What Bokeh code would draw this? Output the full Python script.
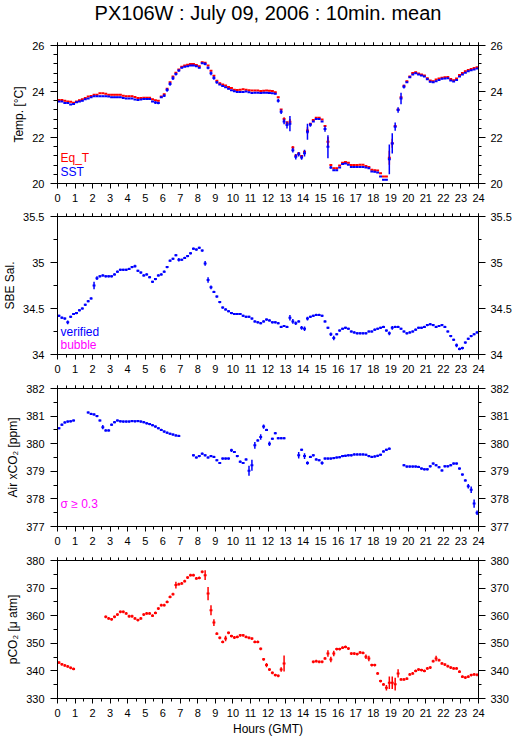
import numpy as np
from bokeh.plotting import figure
from bokeh.layouts import column
from bokeh.models import ColumnDataSource, LinearAxis, FixedTicker, Label, Range1d, CustomJSTickFormatter
from bokeh.embed import file_html
from bokeh.resources import INLINE

N = None
TITLE = "PX106W : July 09, 2006 : 10min. mean"
X_TICKS = list(range(25))
X_LABELS = [str(h) for h in X_TICKS]
X_MINOR = [h / 2 for h in range(49)]
BIN_HOURS = 10 / 60

# ---- Temperature (10-min means, one row per hour) ----
EQT = [
    23.63, 23.63, 23.60, 23.57, 23.55, 23.51,
    23.57, 23.62, 23.66, 23.72, 23.78, 23.80,
    23.86, 23.86, 23.92, 23.92, 23.90, 23.86,
    23.86, 23.86, 23.86, 23.86, 23.82, 23.79,
    23.79, 23.79, 23.76, 23.72, 23.72, 23.73,
    23.73, 23.73, 23.66, 23.62, 23.60, 23.78,
    23.88, 24.12, 24.40, 24.65, 24.82, 24.96,
    25.08, 25.13, 25.16, 25.20, 25.20, 25.15,
    25.10, 25.27, 25.25, 25.13, 24.90, 24.69,
    24.47, 24.36, 24.30, 24.26, 24.20, 24.15,
    24.08, 24.06, 24.08, 24.10, 24.08, 24.05,
    24.04, 24.04, 24.04, 24.02, 24.03, 24.04,
    24.03, 24.02, 23.97, 23.75, 23.22, 22.80,
    22.62, 22.68, 21.57, 21.22, 21.32, 21.20,
    21.38, 22.30, 22.60, 22.76, 22.86, 22.86,
    22.78, 22.50, 21.82, 20.80, 20.66, 20.66,
    20.78, 20.90, 20.94, 20.90, 20.80, 20.80,
    20.80, 20.82, 20.82, 20.76, 20.72, 20.60,
    20.58, 20.56, 20.45, 20.30, 20.30, 21.12,
    21.75, 22.50, 23.22, 23.75, 24.25, 24.45,
    24.65, 24.80, 24.84, 24.78, 24.74, 24.70,
    24.58, 24.48, 24.45, 24.52, 24.56, 24.60,
    24.62, 24.63, 24.54, 24.49, 24.56, 24.72,
    24.80, 24.88, 24.94, 24.98, 25.02, 25.05,
]
SST = [
    23.56, 23.56, 23.50, 23.50, 23.43, 23.46,
    23.53, 23.57, 23.60, 23.66, 23.70, 23.75,
    23.79, 23.79, 23.79, 23.79, 23.79, 23.78,
    23.75, 23.75, 23.75, 23.75, 23.72, 23.70,
    23.70, 23.70, 23.65, 23.63, 23.65, 23.67,
    23.67, 23.67, 23.57, 23.52, 23.50, 23.75,
    23.82, 24.07, 24.33, 24.58, 24.76, 24.91,
    25.03, 25.08, 25.10, 25.13, 25.13, 25.10,
    25.03, 25.23, 25.20, 25.03, 24.79, 24.59,
    24.40, 24.30, 24.24, 24.18, 24.12, 24.05,
    24.01, 23.98, 23.98, 23.98, 24.00, 23.97,
    23.93, 23.95, 23.95, 23.93, 23.95, 23.95,
    23.93, 23.92, 23.90, 23.60, 23.12, 22.70,
    22.54, 22.60, 21.45, 21.16, 21.27, 21.13,
    21.32, 22.25, 22.55, 22.70, 22.80, 22.80,
    22.70, 22.37, 21.60, 20.70, 20.58, 20.58,
    20.70, 20.85, 20.87, 20.82, 20.72, 20.72,
    20.72, 20.72, 20.72, 20.70, 20.66, 20.52,
    20.51, 20.48, 20.30, 20.16, 20.16, 21.05,
    21.74, 22.47, 23.20, 23.70, 24.21, 24.40,
    24.62, 24.74, 24.79, 24.74, 24.70, 24.65,
    24.53, 24.42, 24.40, 24.45, 24.50, 24.55,
    24.56, 24.58, 24.48, 24.43, 24.50, 24.65,
    24.74, 24.82, 24.88, 24.92, 24.96, 25.00,
]
EQT_ERR_DEFAULT = 0.02
EQT_ERR = {77: 0.08, 78: 0.1, 79: 0.12, 80: 0.06, 85: 0.15, 92: 0.2, 113: 0.3, 114: 0.2}
SST_ERR_DEFAULT = 0.02
SST_ERR = {33: 0.06, 34: 0.05, 36: 0.06, 37: 0.08, 38: 0.08, 39: 0.08, 40: 0.06, 41: 0.05,
           50: 0.06, 51: 0.06, 52: 0.08, 53: 0.08, 54: 0.06,
           75: 0.08, 76: 0.1, 77: 0.12, 78: 0.15, 79: 0.33, 80: 0.1, 81: 0.12, 82: 0.1, 83: 0.1,
           84: 0.15, 85: 0.35, 86: 0.08, 91: 0.12, 92: 0.5, 93: 0.06,
           113: 0.65, 114: 0.44, 115: 0.18, 116: 0.12, 117: 0.25, 118: 0.08}

# ---- SBE salinity ----
SAL = [
    34.42, 34.40, 34.39, 34.35, 34.41, 34.44,
    34.45, 34.48, 34.50, 34.54, 34.58, 34.61,
    34.75, 34.83, 34.85, 34.86, 34.85, 34.85,
    34.85, 34.87, 34.90, 34.92, 34.92, 34.92,
    34.93, 34.95, 34.96, 34.91, 34.89, 34.86,
    34.87, 34.84, 34.79, 34.82, 34.86, 34.87,
    34.90, 34.95, 35.02, 35.04, 35.08, 35.03,
    35.03, 35.05, 35.07, 35.10, 35.15, 35.14,
    35.16, 35.13, 34.99, 34.81, 34.73, 34.68,
    34.63, 34.57, 34.51, 34.49, 34.47, 34.45,
    34.44, 34.44, 34.44, 34.42, 34.41, 34.41,
    34.39, 34.36, 34.35, 34.34, 34.36, 34.38,
    34.37, 34.35, 34.35, 34.34, 34.30, 34.31,
    34.30, 34.40, 34.36, 34.34, 34.36, 34.29,
    34.28, 34.39, 34.41, 34.42, 34.43, 34.43,
    34.42, 34.36, 34.29, 34.22, 34.18, 34.22,
    34.26, 34.28, 34.29, 34.28, 34.25, 34.24,
    34.23, 34.23, 34.23, 34.23, 34.25, 34.25,
    34.27, 34.28, 34.29, 34.30, 34.26, 34.23,
    34.29, 34.30, 34.30, 34.28, 34.25, 34.23,
    34.24, 34.25, 34.27, 34.29, 34.29, 34.30,
    34.32, 34.33, 34.32, 34.30, 34.31, 34.32,
    34.30, 34.25, 34.20, 34.16, 34.10, 34.06,
    34.07, 34.13, 34.17, 34.20, 34.22, 34.24,
]
SAL_ERR_DEFAULT = 0.012
SAL_ERR = {3: 0.02, 12: 0.04, 13: 0.02, 26: 0.015, 41: 0.02, 50: 0.025, 51: 0.03, 52: 0.02,
           79: 0.03, 80: 0.025, 81: 0.02, 83: 0.02, 84: 0.025, 85: 0.02, 93: 0.02, 94: 0.025,
           113: 0.02, 114: 0.02, 136: 0.02, 137: 0.015, 138: 0.015}

# ---- Air xCO2 ----
AIR = [
    380.56, 380.69, 380.77, 380.80, 380.81, 380.84,
    N, N, N, N, 381.13, 381.08,
    381.06, 381.00, 380.84, 380.60, 380.48, 380.48,
    380.69, 380.78, 380.84, 380.81, 380.80, 380.80,
    380.80, 380.82, 380.81, 380.82, 380.80, 380.78,
    380.74, 380.71, 380.67, 380.62, 380.56, 380.50,
    380.44, 380.40, 380.36, 380.33, 380.30, 380.28,
    N, N, N, N, 379.58, 379.50,
    379.55, 379.64, 379.58, 379.50, 379.55, 379.52,
    379.40, 379.30, 379.46, 379.46, 379.46, 379.76,
    379.70, 379.55, 379.35, 379.30, 379.43, 379.02,
    379.22, 379.94, 380.12, 380.24, 380.62, 380.50,
    380.00, 380.18, 380.38, 380.20, 380.20, 380.20,
    N, N, N, N, 379.58, 379.78,
    379.55, 379.30, 379.52, 379.58, 379.43, 379.40,
    379.30, 379.46, 379.46, 379.46, 379.48, 379.50,
    379.51, 379.55, 379.56, 379.58, 379.58, 379.61,
    379.61, 379.61, 379.61, 379.60, 379.55, 379.52,
    379.54, 379.56, 379.60, 379.72, 379.78, 379.82,
    N, N, N, N, 379.22, 379.17,
    379.17, 379.17, 379.17, 379.16, 379.10, 379.07,
    379.07, 379.18, 379.28, 379.22, 379.15, 379.03,
    379.18, 379.18, 379.22, 379.28, 379.28, 379.10,
    378.88, 378.67, 378.46, 378.33, 377.83, 377.50,
]
AIR_ERR_DEFAULT = 0.04
AIR_ERR = {15: 0.08, 59: 0.06, 65: 0.18, 66: 0.2, 67: 0.12, 69: 0.1, 70: 0.08, 72: 0.08,
           82: 0.12, 84: 0.1, 85: 0.06, 90: 0.06, 140: 0.08, 141: 0.12, 142: 0.15, 143: 0.08}

# ---- pCO2 ----
PCO2 = [
    343.0, 342.4, 342.0, 341.6, 341.1, 340.7,
    N, N, N, N, N, N,
    N, N, N, N, 359.6, 359.0,
    358.7, 359.6, 360.4, 361.4, 361.4, 360.8,
    359.8, 359.8, 359.0, 358.4, 359.0, 360.4,
    360.8, 360.8, 360.0, 361.0, 362.6, 363.8,
    363.8, 365.0, 366.8, 367.8, 371.1, 371.4,
    371.7, 372.5, 373.8, 374.7, 374.7, 373.5,
    373.7, 375.9, 374.7, 368.0, 362.0, 357.5,
    353.5, 352.0, 350.5, 351.7, 353.8, 352.6,
    352.1, 352.3, 352.9, 352.9, 352.3, 352.0,
    351.7, 350.5, 350.5, 348.0, 344.2, 342.1,
    340.5, 339.3, 338.5, 338.2, 340.5, 342.7,
    N, N, N, N, N, N,
    N, N, N, 343.3, 343.5, 343.3,
    343.3, 344.5, 346.3, 344.1, 346.3, 347.9,
    347.9, 348.4, 348.7, 348.1, 346.3, 346.3,
    346.1, 346.7, 346.5, 345.1, 344.5, 342.1,
    342.1, 339.1, 336.3, 335.1, 333.9, 335.7,
    335.7, 335.2, 339.1, 336.9, 336.9, 337.2,
    338.7, 339.1, 340.0, 340.5, 340.3, 340.0,
    340.9, 341.2, 343.5, 344.5, 343.9, 342.7,
    342.3, 341.7, 341.2, 340.9, 340.9, 339.7,
    337.9, 337.6, 337.9, 338.5, 338.7, 338.6,
]
PCO2_ERR_DEFAULT = 0.5
PCO2_ERR = {40: 1.2, 50: 1.8, 51: 2.4, 52: 1.8, 53: 1.2, 57: 1.0, 71: 0.8, 76: 0.8, 77: 2.9,
            92: 1.2, 93: 1.0, 94: 1.0, 105: 0.8, 106: 1.0, 112: 1.0, 113: 2.3, 114: 2.3,
            115: 2.3, 116: 1.5, 129: 1.0}

# ---- axes ----
TEMP_TICKS = [20, 22, 24, 26]
TEMP_LABELS = ["20", "22", "24", "26"]
TEMP_MINOR = [20.0, 20.4, 20.8, 21.2, 21.6, 22.0, 22.4, 22.8, 23.2, 23.6, 24.0, 24.4, 24.8, 25.2, 25.6, 26.0]
SAL_TICKS = [34.0, 34.5, 35.0, 35.5]
SAL_LABELS = ["34", "34.5", "35", "35.5"]
SAL_MINOR = [34.0, 34.25, 34.5, 34.75, 35.0, 35.25, 35.5]
AIR_TICKS = [377, 378, 379, 380, 381, 382]
AIR_LABELS = ["377", "378", "379", "380", "381", "382"]
AIR_MINOR = [377, 377.5, 378, 378.5, 379, 379.5, 380, 380.5, 381, 381.5, 382]
PCO2_TICKS = [330, 340, 350, 360, 370, 380]
PCO2_LABELS = ["330", "340", "350", "360", "370", "380"]
PCO2_MINOR = [330, 335, 340, 345, 350, 355, 360, 365, 370, 375, 380]

FONT = "Liberation Sans"
RED = "#ff0000"
BLUE = "#0000ff"
MAGENTA = "#ff00ff"
FIG_W = 514
FRAME_H = 138
TITLE_H = 25


def label_formatter(vals, labs):
    return CustomJSTickFormatter(args=dict(vals=vals, labs=labs), code="""
        for (let i = 0; i < vals.length; i++) {
            if (Math.abs(vals[i] - tick) < 1e-6) { return labs[i]; }
        }
        return '';
    """)


def style_axis(ax, out_major, out_minor, standoff=2, labels=True):
    ax.major_tick_in = 0
    ax.minor_tick_in = 0
    ax.major_tick_out = out_major
    ax.minor_tick_out = out_minor
    ax.axis_line_color = "black"
    ax.major_tick_line_color = "black"
    ax.minor_tick_line_color = "black"
    ax.major_label_text_font = FONT
    ax.major_label_text_color = "black"
    ax.axis_label_text_font = FONT
    ax.axis_label_text_font_style = "normal"
    ax.axis_label_text_font_size = "12px"
    ax.axis_label_text_color = "black"
    if labels:
        ax.major_label_text_font_size = "11px"
        ax.major_label_standoff = standoff
    else:
        ax.major_label_text_font_size = "0px"
        ax.major_label_standoff = 0


def make_panel(top, bottom, yr, yticks, ylabs, yminor, ylabel, xlabel=None):
    p = figure(width=FIG_W, height=top + FRAME_H + bottom, x_range=Range1d(0, 24), y_range=Range1d(*yr),
               output_backend="svg", toolbar_location=None,
               min_border_left=51, min_border_right=36, min_border_top=top, min_border_bottom=bottom,
               x_axis_location=None, y_axis_location=None)
    p.grid.visible = False
    p.outline_line_color = "black"
    p.background_fill_color = "white"
    p.border_fill_color = "white"
    xt = FixedTicker(ticks=X_TICKS, minor_ticks=X_MINOR)
    yt = FixedTicker(ticks=yticks, minor_ticks=yminor)
    bx = LinearAxis(ticker=xt, formatter=label_formatter(X_TICKS, X_LABELS))
    if xlabel:
        bx.axis_label = xlabel
        bx.axis_label_standoff = 2
    style_axis(bx, 5, 3, standoff=5)
    tx = LinearAxis(ticker=xt, formatter=CustomJSTickFormatter(code="return '';"))
    style_axis(tx, 3, 3, labels=False)
    ly = LinearAxis(ticker=yt, formatter=label_formatter(yticks, ylabs), axis_label=ylabel)
    ly.axis_label_standoff = 3
    style_axis(ly, 7, 4, standoff=6)
    ry = LinearAxis(ticker=yt, formatter=label_formatter(yticks, ylabs))
    style_axis(ry, 7, 3, standoff=5)
    p.add_layout(bx, "below")
    p.add_layout(tx, "above")
    p.add_layout(ly, "left")
    p.add_layout(ry, "right")
    return p


def add_series(p, vals, err_default, errs, color):
    x0, x1, xc, y, lo, hi = [], [], [], [], [], []
    for k, v in enumerate(vals):
        if v is None:
            continue
        e = errs.get(k, err_default)
        a = k * BIN_HOURS
        b = (k + 1) * BIN_HOURS
        x0.append(a); x1.append(b); xc.append((a + b) / 2)
        y.append(v); lo.append(v - e); hi.append(v + e)
    src = ColumnDataSource(dict(x0=x0, x1=x1, xc=xc, y=y, lo=lo, hi=hi))
    p.segment("x0", "y", "x1", "y", source=src, line_color=color, line_width=2)
    p.segment("xc", "lo", "xc", "hi", source=src, line_color=color, line_width=1.5)


def add_text(p, x, y, text, color):
    p.add_layout(Label(x=x, y=y, text=text, text_color=color, text_font=FONT,
                       text_font_size="12px", text_baseline="middle", text_align="left"))


# title strip: its plot area spans the same hours as the panels below
pt = figure(width=FIG_W, height=TITLE_H, x_range=Range1d(0, 24), y_range=Range1d(0, TITLE_H),
            output_backend="svg", toolbar_location=None,
            min_border_left=51, min_border_right=36, min_border_top=0, min_border_bottom=0,
            x_axis_location=None, y_axis_location=None)
pt.grid.visible = False
pt.outline_line_color = None
pt.background_fill_color = "white"
pt.border_fill_color = "white"
pt.add_layout(Label(x=12, y=TITLE_H - 12, text=TITLE, text_font=FONT, text_font_size="20px",
                    text_color="black", text_align="center", text_baseline="middle"))

p1 = make_panel(45 - TITLE_H, 24, (20, 26), TEMP_TICKS, TEMP_LABELS, TEMP_MINOR, "Temp. [°C]")
add_series(p1, EQT, EQT_ERR_DEFAULT, EQT_ERR, RED)
add_series(p1, SST, SST_ERR_DEFAULT, SST_ERR, BLUE)
add_text(p1, 0.17, 21.09, "Eq_T", RED)
add_text(p1, 0.17, 20.48, "SST", BLUE)

p2 = make_panel(9, 24, (34, 35.5), SAL_TICKS, SAL_LABELS, SAL_MINOR, "SBE Sal.")
add_series(p2, SAL, SAL_ERR_DEFAULT, SAL_ERR, BLUE)
add_text(p2, 0.17, 34.24, "verified", BLUE)
add_text(p2, 0.17, 34.10, "bubble", MAGENTA)

p3 = make_panel(10, 24, (377, 382), AIR_TICKS, AIR_LABELS, AIR_MINOR, "Air xCO\u2082 [ppm]")
add_series(p3, AIR, AIR_ERR_DEFAULT, AIR_ERR, BLUE)
add_text(p3, 0.17, 377.82, "\u03c3 \u2265 0.3", MAGENTA)

p4 = make_panel(10, 40, (330, 380), PCO2_TICKS, PCO2_LABELS, PCO2_MINOR, "pCO\u2082 [\u03bc atm]",
                xlabel="Hours (GMT)")
add_series(p4, PCO2, PCO2_ERR_DEFAULT, PCO2_ERR, RED)

layout = column(pt, p1, p2, p3, p4, spacing=0)
open("out.html", "w").write(file_html(layout, INLINE))
